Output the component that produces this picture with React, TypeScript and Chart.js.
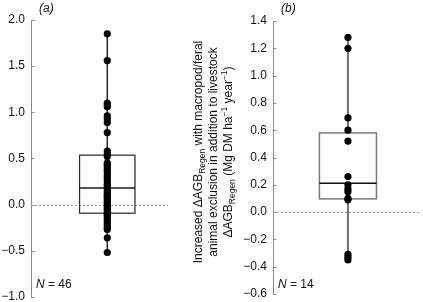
import React, { useEffect, useRef } from "react";
import { Chart, registerables } from "chart.js";
Chart.register(...registerables);

const FONT = "'Liberation Sans', Arial, Helvetica, sans-serif";

// ---- Panel (a) data ----
const valuesA = [
  1.85, 1.56, 1.10, 1.08, 1.06, 0.96, 0.93, 0.89, 0.78, 0.58, 0.55, 0.52,
  0.45, 0.43, 0.41, 0.38, 0.36, 0.33, 0.30, 0.28, 0.25, 0.22, 0.20, 0.18,
  0.15, 0.12, 0.10, 0.08, 0.06, 0.04, 0.02, 0.00, -0.02, -0.04, -0.06, -0.08,
  -0.10, -0.12, -0.14, -0.17, -0.20, -0.22, -0.25, -0.27, -0.36, -0.52,
];
const boxA = [-0.094, 0.18, 0.535]; // q1, median, q3
const ticksA = [-1.0, -0.5, 0.0, 0.5, 1.0, 1.5, 2.0];
const labelA = "(a)";
const countA = "46";

// ---- Panel (b) data ----
const valuesB = [1.28, 1.20, 0.69, 0.60, 0.52, 0.26, 0.20, 0.17, 0.15, 0.10, 0.09, -0.31, -0.33, -0.35];
const boxB = [0.097, 0.212, 0.58]; // q1, median, q3
const ticksB = [-0.6, -0.4, -0.2, 0.0, 0.2, 0.4, 0.6, 0.8, 1.0, 1.2, 1.4];
const labelB = "(b)";
const countB = "14";

type Seg = { t: string; k?: "sub" | "sup" };
const titleLines: Seg[][] = [
  [{ t: "Increased \u0394AGB" }, { t: "Regen", k: "sub" }, { t: " with macropod/feral" }],
  [{ t: "animal exclusion in addition to livestock" }],
  [
    { t: "\u0394AGB" },
    { t: "Regen", k: "sub" },
    { t: " (Mg DM ha" },
    { t: "\u22121", k: "sup" },
    { t: " year" },
    { t: "\u22121", k: "sup" },
    { t: ")" },
  ],
];

const fmt = (v: number) => {
  const s = (Math.abs(v) < 1e-9 ? 0 : v).toFixed(1);
  return s.replace("-", "\u2212");
};

function drawRich(ctx: CanvasRenderingContext2D, segs: Seg[], cx: number, cy: number) {
  ctx.save();
  ctx.translate(cx, cy);
  ctx.rotate(-Math.PI / 2);
  ctx.textBaseline = "alphabetic";
  ctx.textAlign = "left";
  const fontFor = (s: Seg) => (s.k ? `8.5px ${FONT}` : `12px ${FONT}`);
  let total = 0;
  for (const s of segs) {
    ctx.font = fontFor(s);
    total += ctx.measureText(s.t).width;
  }
  let x = -total / 2;
  for (const s of segs) {
    ctx.font = fontFor(s);
    const dy = s.k === "sub" ? 3 : s.k === "sup" ? -4.5 : 0;
    ctx.fillText(s.t, x, 4 + dy);
    x += ctx.measureText(s.t).width;
  }
  ctx.restore();
}

type PanelCfg = {
  values: number[];
  box: number[];
  ticks: number[];
  label: string;
  count: string;
  yMin: number;
  yMax: number;
  xMin: number;
  xMax: number;
  padTop: number;
  padBottom: number;
  yWidth: number;
  boxColor: string;
  boxWidth: number;
  whiskerColor: string;
  whiskerWidth: number;
  medianColor: string;
  title: boolean;
};

function Panel({ cfg, left, width }: { cfg: PanelCfg; left: number; width: number }) {
  const ref = useRef<HTMLCanvasElement>(null);
  useEffect(() => {
    const canvas = ref.current!;
    const vmax = Math.max(...cfg.values);
    const vmin = Math.min(...cfg.values);
    const plugin = {
      id: "panelDecor",
      beforeDatasetsDraw(chart: any) {
        const { ctx, chartArea, scales } = chart;
        const x = scales.x;
        const y = scales.y;
        ctx.save();
        const y0 = Math.round(y.getPixelForValue(0)) + 0.5;
        ctx.strokeStyle = "#9a9a9a";
        ctx.lineWidth = 1;
        ctx.setLineDash([2, 2]);
        ctx.beginPath();
        ctx.moveTo(chartArea.left + 4, y0);
        ctx.lineTo(chartArea.right, y0);
        ctx.stroke();
        ctx.setLineDash([]);
        const xl = x.getPixelForValue(-0.5);
        const xr = x.getPixelForValue(0.5);
        const yq1 = y.getPixelForValue(cfg.box[0]);
        const ymed = y.getPixelForValue(cfg.box[1]);
        const yq3 = y.getPixelForValue(cfg.box[2]);
        ctx.strokeStyle = cfg.boxColor;
        ctx.lineWidth = cfg.boxWidth;
        ctx.strokeRect(xl, yq3, xr - xl, yq1 - yq3);
        ctx.strokeStyle = cfg.medianColor;
        ctx.lineWidth = 1.5;
        ctx.beginPath();
        ctx.moveTo(xl, ymed);
        ctx.lineTo(xr, ymed);
        ctx.stroke();
        ctx.restore();
      },
      afterDraw(chart: any) {
        const { ctx, chartArea, scales } = chart;
        const y = scales.y;
        ctx.save();
        ctx.strokeStyle = "#8a8a8a";
        ctx.lineWidth = 1;
        for (const v of cfg.ticks) {
          const py = Math.round(y.getPixelForValue(v)) + 0.5;
          ctx.beginPath();
          ctx.moveTo(chartArea.left, py);
          ctx.lineTo(chartArea.left + 3.5, py);
          ctx.stroke();
        }
        ctx.fillStyle = "#111";
        ctx.textBaseline = "middle";
        ctx.textAlign = "left";
        ctx.font = `italic 12px ${FONT}`;
        ctx.fillText(cfg.label, chartArea.left + 8, 9);
        const nx = chartArea.left + 5;
        ctx.font = `italic 12px ${FONT}`;
        ctx.fillText("N", nx, 285);
        const nw = ctx.measureText("N").width;
        ctx.font = `12px ${FONT}`;
        ctx.fillText(" = " + cfg.count, nx + nw, 285);
        if (cfg.title) {
          ctx.fillStyle = "#111";
          const cy = 152;
          const offs = [-75, -60.3, -45.3];
          titleLines.forEach((line, i) => drawRich(ctx, line, chartArea.left + offs[i], cy));
        }
        ctx.restore();
      },
    };
    const chart = new Chart(canvas, {
      type: "scatter",
      data: {
        datasets: [
          {
            type: "scatter",
            data: cfg.values.map((v) => ({ x: 0, y: v })),
            pointRadius: 3.6,
            pointBackgroundColor: "#000",
            pointBorderWidth: 0,
            order: 0,
          },
          {
            type: "line",
            data: [
              { x: 0, y: cfg.box[2] },
              { x: 0, y: vmax },
            ],
            borderColor: cfg.whiskerColor,
            borderWidth: cfg.whiskerWidth,
            pointRadius: 0,
            order: 1,
          },
          {
            type: "line",
            data: [
              { x: 0, y: cfg.box[0] },
              { x: 0, y: vmin },
            ],
            borderColor: cfg.whiskerColor,
            borderWidth: cfg.whiskerWidth,
            pointRadius: 0,
            order: 1,
          },
        ] as any,
      },
      options: {
        responsive: false,
        animation: false,
        devicePixelRatio: 1,
        events: [],
        layout: { padding: { left: 0, right: 0, top: cfg.padTop, bottom: cfg.padBottom } },
        plugins: { legend: { display: false }, tooltip: { enabled: false } },
        scales: {
          x: { type: "linear", display: false, min: cfg.xMin, max: cfg.xMax },
          y: {
            type: "linear",
            min: cfg.yMin,
            max: cfg.yMax,
            afterFit: (s: any) => {
              s.width = cfg.yWidth;
            },
            afterBuildTicks: (s: any) => {
              s.ticks = cfg.ticks.map((v) => ({ value: v }));
            },
            grid: { drawOnChartArea: false, drawTicks: false },
            border: { display: true, color: "#8a8a8a", width: 1 },
            ticks: {
              padding: 6,
              color: "#111",
              font: { family: FONT, size: 12 },
              callback: (v: any) => fmt(Number(v)),
            },
          },
        },
      } as any,
      plugins: [plugin],
    });
    return () => chart.destroy();
  }, []);
  return (
    <canvas
      ref={ref}
      width={width}
      height={310}
      style={{ position: "absolute", left, top: 0, width, height: 310 }}
    />
  );
}

const cfgA: PanelCfg = {
  values: valuesA,
  box: boxA,
  ticks: ticksA,
  label: labelA,
  count: countA,
  yMin: -1,
  yMax: 2,
  xMin: -1.377,
  xMax: 1.096,
  padTop: 20,
  padBottom: 13,
  yWidth: 31,
  boxColor: "#262626",
  boxWidth: 1.2,
  whiskerColor: "#262626",
  whiskerWidth: 1.5,
  medianColor: "#1a1a1a",
  title: false,
};

const cfgB: PanelCfg = {
  values: valuesB,
  box: boxB,
  ticks: ticksB,
  label: labelB,
  count: countB,
  yMin: -0.6,
  yMax: 1.4,
  xMin: -1.314,
  xMax: 1.246,
  padTop: 21,
  padBottom: 16,
  yWidth: 108,
  boxColor: "#7a7a7a",
  boxWidth: 1.5,
  whiskerColor: "#6e6e6e",
  whiskerWidth: 2,
  medianColor: "#111",
  title: true,
};

export default function App() {
  return (
    <div
      style={{
        position: "fixed",
        left: 0,
        top: 0,
        width: 423,
        height: 302,
        overflow: "hidden",
        background: "#fff",
      }}
    >
      <Panel cfg={cfgA} left={0} width={172} />
      <Panel cfg={cfgB} left={165} width={258} />
    </div>
  );
}
